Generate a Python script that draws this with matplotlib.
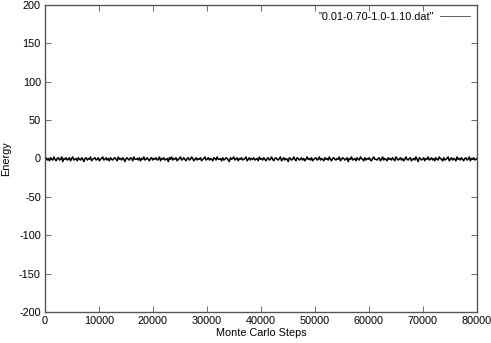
import numpy as np
import matplotlib
matplotlib.use('Agg')
import matplotlib.pyplot as plt

# energy samples (one every ~200 MC steps)
energy = [
    -1, 1, -2, 0, -3, 1, -1, -2, 2, -1, -3, 0, 1, -2, -1, 2, -4, 0, -1, 1,
    -2, -1, 1, -3, 0, 2, -2, -1, 0, -3, 1, -1, -2, 1, -1, -4, 0, 1, -2, 0,
    -1, 2, -3, -1, 0, 1, -2, -1, 1, -3, -1, 0, 2, -2, -1, 1, -2, 0, -3, 1,
    -1, -2, 0, 1, -1, -3, 2, -1, 0, -2, 1, -1, -4, 0, 1, -1, -2, 1, 0, -3,
    2, -1, -1, 0, -2, 1, -3, 0, -1, 2, -2, -1, 1, -1, -3, 0, 1, -2, 0, -1,
    1, -2, -1, 2, -3, 0, -1, 1, -2, -1, 0, -4, 1, -1, 2, -2, 0, -1, 1, -3,
    -1, 0, 2, -2, -1, 1, -1, -3, 0, 1, -2, -1, 2, 0, -3, -1, 1, -2, 0, -1,
    1, -3, -1, 0, 2, -2, -1, 1, -2, 0, -1, -3, 1, 0, -2, 2, -1, -1, 0, -3,
    1, -2, -1, 1, 0, -2, -4, 1, -1, 0, 2, -2, -1, 1, -3, 0, -1, 1, -2, -1,
    0, 2, -3, -1, 1, -2, 0, -1, 1, -2, -1, 0, -3, 2, -1, 0, -2, 1, -1, -3,
    0, 1, -2, -1, 2, -1, -3, 0, 1, -1, -2, 0, 2, -3, -1, 1, -2, 0, -1, -4,
    1, 0, -2, -1, 2, -1, -3, 1, 0, -2, -1, 1, -2, 0, -3, -1, 2, -1, 0, -2,
    1, -3, -1, 0, 1, -2, -1, 2, -2, 0, -1, -3, 1, -1, 0, -2, 2, -1, -3, 0,
    1, -1, -2, 0, -1, 2, -3, -1, 1, 0, -2, -1, 1, -4, 0, -1, 2, -2, -1, 0,
    -3, 1, -1, -2, 2, 0, -1, -3, 1, -2, 0, -1, 1, -2, -3, 0, 2, -1, -1, -2,
    0, 1, -3, -1, 2, -2, 0, -1, -3, 1, -1, 0, -2, 1, -1, -3, 2, 0, -2, -1,
    1, -2, 0, -3, -1, 2, -1, -2, 0, 1, -3, -1, 0, -2, 2, -1, -4, 1, 0, -2,
    -1, 1, -3, 0, -1, 2, -2, -1, 1, -2, 0, -3, 1, -1, -2, 2, 0, -1, -3, 1,
    -2, -1, 0, 2, -3, -1, 1, -2, 0, -1, -3, 2, -1, 0, -2, 1, -1, -3, 0, 1,
    -2, -1, 2, -3, 0, -1, 1, -2, -1, 0,
]
steps = np.linspace(0, 80000, len(energy))

xticks = [0, 10000, 20000, 30000, 40000, 50000, 60000, 70000, 80000]
yticks = [-200, -150, -100, -50, 0, 50, 100, 150, 200]

plt.rcParams['font.family'] = ['Liberation Sans', 'DejaVu Sans']
plt.rcParams['axes.unicode_minus'] = False

fig = plt.figure(figsize=(4.91, 3.43), dpi=100)
ax = fig.add_axes([45/491, 31/343, 432/491, 307/343])

ax.plot(steps, energy, color='black', linewidth=1.1, label='"0.01-0.70-1.0-1.10.dat"')

ax.set_xlim(0, 80000)
ax.set_ylim(-200, 200)
ax.set_xticks(xticks)
ax.set_yticks(yticks)
ax.tick_params(direction='in', length=4, width=0.6, color='#555555',
               top=True, right=True, labelsize=7.8, pad=3)
for s in ax.spines.values():
    s.set_color('#555555')
    s.set_linewidth(1.0)

ax.set_xlabel('Monte Carlo Steps', fontsize=7.8, labelpad=1)
ax.set_ylabel('Energy', fontsize=7.8, labelpad=6)

leg = ax.legend(loc='upper right', fontsize=7.8, frameon=False, markerfirst=False,
                handlelength=2.8, handletextpad=0.6, borderaxespad=0.2)
for l in leg.get_lines():
    l.set_linewidth(0.6)
    l.set_color('#444444')

fig.savefig('out.png', dpi=100)
